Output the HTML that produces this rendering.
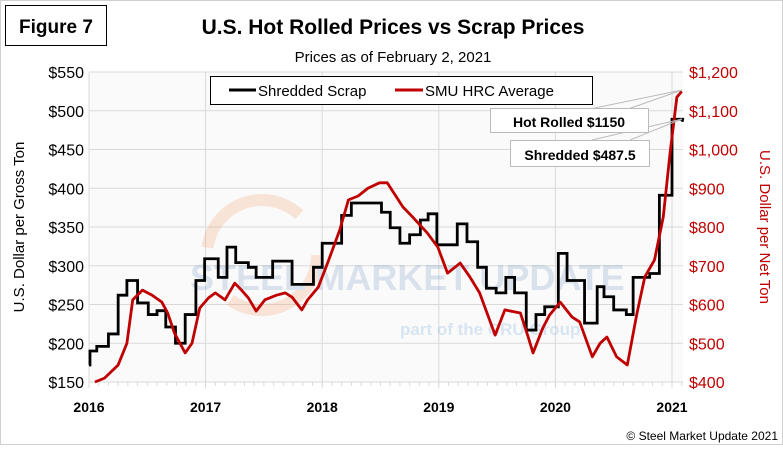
<!DOCTYPE html>
<html><head><meta charset="utf-8"><style>
body{margin:0;background:#fff;}
svg text{font-family:"Liberation Sans",sans-serif;}
</style></head><body>
<svg width="783" height="445" viewBox="0 0 783 445" xmlns="http://www.w3.org/2000/svg">
<rect x="0.5" y="0.5" width="782" height="444" fill="#fff" stroke="#d0d0d0"/>
<rect x="5.5" y="5.5" width="101" height="40" fill="#fff" stroke="#000"/>
<text x="56" y="33" font-size="19" font-weight="bold" text-anchor="middle">Figure 7</text>
<text x="393" y="34" font-size="21" font-weight="bold" text-anchor="middle">U.S. Hot Rolled Prices vs Scrap Prices</text>
<text x="393" y="62" font-size="15" text-anchor="middle">Prices as of February 2, 2021</text>
<rect x="89" y="72" width="594" height="310" fill="#fafafa"/>
<g id="grid"></g>
<g opacity="0.25">
<circle cx="262" cy="255" r="55" fill="none" stroke="#f4a070" stroke-width="12" stroke-dasharray="120 60"/>
<text x="190" y="290" font-size="36" font-weight="bold" fill="#7a9cc6">STEEL MARKET UPDATE</text>
<text x="400" y="335" font-size="17" font-weight="bold" fill="#6fa9d8">part of the CRU Group</text>
</g>
<g id="axes"></g>
<g id="series"></g>
<rect x="210.5" y="76.5" width="382" height="28" fill="#fff" stroke="#000"/>
<g>
<line x1="229" y1="90" x2="256" y2="90" stroke="#000" stroke-width="3"/>
<text x="258" y="96" font-size="15">Shredded Scrap</text></g>
<g>
<line x1="395" y1="90" x2="423" y2="90" stroke="#c00000" stroke-width="3"/>
<text x="425" y="96" font-size="15">SMU HRC Average</text></g>
<g>
<line x1="590" y1="109" x2="682" y2="90" stroke="#bbb"/>
<line x1="628" y1="109" x2="682" y2="90" stroke="#bbb"/>
<line x1="592" y1="140" x2="682" y2="119" stroke="#bbb"/>
<line x1="630" y1="140" x2="682" y2="119" stroke="#bbb"/>
<rect x="490.5" y="108.5" width="158" height="24" fill="#fff" stroke="#bbb"/>
<text x="569" y="127" font-size="14" font-weight="bold" text-anchor="middle">Hot Rolled $1150</text>
<rect x="510.5" y="140.5" width="139" height="26" fill="#fff" stroke="#bbb"/>
<text x="580" y="160" font-size="14" font-weight="bold" text-anchor="middle">Shredded $487.5</text>
</g>
<text transform="translate(24,227) rotate(-90)" font-size="15" text-anchor="middle">U.S. Dollar per Gross Ton</text>
<text transform="translate(760,227) rotate(90)" font-size="15" fill="#c00000" text-anchor="middle">U.S. Dollar per Net Ton</text>
<text x="778" y="440" font-size="12" text-anchor="end">© Steel Market Update 2021</text>
</svg>
<script>
const years=[2016,2017,2018,2019,2020,2021];
const leftTicks=[150,200,250,300,350,400,450,500,550];
const rightTicks=[400,500,600,700,800,900,1000,1100,1200];
const scrapMonths=[0,0.1,0.8,2,3,3.9,5,6.1,7,7.9,8.9,9.9,11,11.9,13.3,14.2,15.1,16.4,17.2,18.9,20.9,23.1,24,26,27,30.1,31,32,33,34.1,34.9,35.8,37.9,38.9,40,40.9,41.9,42.9,43.8,45,46,46.9,48.3,49.2,51,52.3,53,54,55.3,56,57.7,58.7,60,61.1];
const scrapValues=[172,190,196,212,262,281,252,237,242,221,200,237,281,309,285,324,304,298,285,306,276,298,329,365,381,369,349,329,340,359,367,327,354,331,298,271,265,285,265,217,237,247,316,281,226,273,260,243,237,285,290,391,489,487.5];
const hrcMonths=[0.6,1.6,3,3.9,4.5,5.5,6.5,7.5,8.1,8.8,9.9,10.6,11.4,12.3,13,14,15,15.7,16.4,17.2,18.1,19.3,20.2,20.9,21.9,22.5,23.6,24.6,25.8,26.7,27.7,28.7,29.9,30.7,32.3,33.3,34.8,35.9,36.9,38.2,39.2,40.2,41.8,42.8,44.4,45.2,45.7,46.7,47.4,48.5,49.7,50.5,51.8,52.6,53.3,54.3,55.4,56.4,57.2,58.2,59.1,59.8,60.5,61];
const hrcValues=[400,410,444,500,612,637,624,606,578,526,475,500,591,617,630,612,655,637,617,583,612,624,630,619,586,612,645,710,792,870,880,900,914,914,852,826,785,748,681,707,671,630,521,586,578,516,475,539,573,606,568,555,465,500,516,465,444,578,671,715,826,991,1135,1150];
const X0=89,X1=683,Y0=382,Y1=72,PXM=116.6/12;
const xs=m=>X0+m*PXM;
const yl=v=>Y0-(v-150)/400*(Y0-Y1);
const yr=v=>Y0-(v-400)/800*(Y0-Y1);
const NS='http://www.w3.org/2000/svg';
function mk(tag,attrs,parent,txt){const e=document.createElementNS(NS,tag);for(const k in attrs)e.setAttribute(k,attrs[k]);if(txt!==undefined)e.textContent=txt;parent.appendChild(e);return e;}
const grid=document.getElementById('grid'),axes=document.getElementById('axes'),series=document.getElementById('series');
leftTicks.forEach(v=>{
  const l=mk('line',{x1:X0,x2:X1,y1:yl(v),y2:yl(v),stroke:'#d9d9d9'},grid);
  
  
  const t=mk('text',{x:84,y:yl(v)+6,'font-size':16,'text-anchor':'end'},axes,'$'+v);
  
  
});
rightTicks.forEach(v=>{
  const t=mk('text',{x:689,y:yr(v)+6,'font-size':16,fill:'#c00000'},axes,'$'+v.toLocaleString('en-US'));
  
  
});
years.forEach((y,i)=>{
  const x=xs(i*12);
  const l=mk('line',{x1:x,x2:x,y1:Y1,y2:Y0+6,stroke:'#d9d9d9'},grid);
  
  
  const t=mk('text',{x:x,y:412,'font-size':14,'font-weight':'bold','text-anchor':'middle'},axes,String(y));
  
  
});
for(let m=0;m<=61;m++){
  const l=mk('line',{x1:xs(m),x2:xs(m),y1:Y0,y2:Y0+4,stroke:'#d9d9d9'},grid);
  
  
}
let d='';
scrapMonths.forEach((m,i)=>{
  if(i===0)d+='M'+xs(m)+','+yl(scrapValues[i]);
  else d+='H'+xs(m)+'V'+yl(scrapValues[i]);
});
d+='H'+xs(61.2);
const ps=mk('path',{d:d,fill:'none',stroke:'#000','stroke-width':2.8},series);


let d2=hrcMonths.map((m,i)=>(i?'L':'M')+xs(m)+','+yr(hrcValues[i])).join('');
const ph=mk('path',{d:d2,fill:'none',stroke:'#c00000','stroke-width':2.8,'stroke-linejoin':'round'},series);


</script>
</body></html>
